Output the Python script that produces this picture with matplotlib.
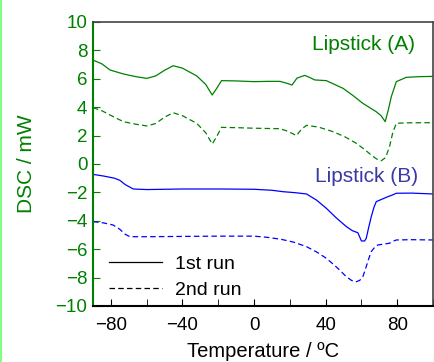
import matplotlib
matplotlib.use("Agg")
import matplotlib.pyplot as plt
from matplotlib.lines import Line2D
from matplotlib.ticker import MultipleLocator

plt.rcParams['font.family'] = ['Liberation Sans', 'DejaVu Sans']

# Lipstick A, 1st run
a1_t = [-90, -85, -80.5, -73, -66, -60, -55, -50, -45.2, -40, -32, -27, -23.4, -21, -18.2, -10, 0, 8, 14.4, 18, 21.2, 24, 28.3, 31, 33.9, 40.4, 49.7, 55, 60.8, 68.3, 71, 73.3, 75, 76.7, 79.5, 85, 92, 100]
a1_y = [7.32, 7.05, 6.62, 6.34, 6.15, 6.03, 6.2, 6.6, 6.92, 6.75, 6.2, 5.6, 4.86, 5.3, 5.87, 5.85, 5.8, 5.82, 5.82, 5.7, 5.56, 6.05, 6.24, 6.1, 5.92, 5.87, 5.33, 4.85, 4.27, 3.68, 3.4, 2.98, 3.8, 4.74, 5.8, 6.1, 6.15, 6.17]
# Lipstick A, 2nd run
a2_t = [-90, -85, -80.5, -73, -66, -60, -55, -50, -45.2, -40, -32.1, -27, -23.4, -21, -18.2, -10, 0, 8, 14.4, 19, 23.7, 26.5, 29.3, 36, 44.1, 51, 57.1, 62, 65.5, 68.5, 71.1, 73.5, 75.7, 77.5, 79.5, 86, 100]
a2_y = [3.97, 3.75, 3.45, 2.98, 2.8, 2.68, 2.85, 3.3, 3.61, 3.4, 2.87, 2.2, 1.41, 1.9, 2.58, 2.56, 2.52, 2.5, 2.49, 2.3, 2.0, 2.45, 2.72, 2.6, 2.28, 1.9, 1.46, 1.0, 0.63, 0.35, 0.23, 0.45, 1.22, 2.2, 2.87, 2.9, 2.91]
# Lipstick B, 1st run
b1_t = [-90, -84, -78, -75, -72, -67.5, -60, -40, -19.1, 0, 10, 16.2, 23, 29.3, 35, 40.4, 46, 51.6, 55, 58, 60, 61.8, 62.7, 64, 65.5, 67, 68.3, 72, 74.8, 77, 79.5, 88, 100]
b1_y = [-0.73, -0.85, -1.0, -1.15, -1.45, -1.76, -1.8, -1.76, -1.76, -1.78, -1.85, -1.95, -2.02, -2.11, -2.55, -3.12, -3.8, -4.41, -4.7, -4.84, -5.42, -5.42, -5.23, -4.5, -3.71, -3.05, -2.65, -2.45, -2.3, -2.2, -2.06, -2.05, -2.11]
# Lipstick B, 2nd run
b2_t = [-90, -84, -78.7, -75, -72, -69.4, -60, -40, -19, 0, 7, 15, 22, 29.3, 35, 40.4, 46, 51.6, 54.5, 57.1, 59, 60.8, 62.5, 64, 65.5, 67.5, 69.2, 72, 75.7, 77.5, 79.5, 88, 100]
b2_y = [-4.06, -4.15, -4.3, -4.6, -4.95, -5.12, -5.12, -5.1, -5.08, -5.08, -5.16, -5.3, -5.5, -5.82, -6.2, -6.64, -7.25, -7.94, -8.2, -8.29, -8.2, -7.94, -7.3, -6.7, -6.17, -5.85, -5.7, -5.65, -5.58, -5.45, -5.35, -5.33, -5.35]

x_ticks = [-80, -40, 0, 40, 80]
y_ticks = [-10, -8, -6, -4, -2, 0, 2, 4, 6, 8, 10]

GREEN = '#008000'
BLUE = '#0000ff'
LBLUE = '#3a3aa5'
DASH = (0, (4.4, 2.6))
LW = 0.9

fig = plt.figure(figsize=(4.34, 3.62), dpi=100)
ax = fig.add_axes([93/434, 1 - 306/362, (433 - 93)/434, (306 - 22)/362])

ax.plot(a1_t, a1_y, color=GREEN, lw=LW)
ax.plot(a2_t, a2_y, color=GREEN, lw=LW, ls=DASH)
ax.plot(b1_t, b1_y, color=BLUE, lw=LW)
ax.plot(b2_t, b2_y, color=BLUE, lw=LW, ls=DASH)

ax.set_xlim(-90, 100)
ax.set_ylim(-10, 10)
ax.set_xticks(x_ticks)
ax.xaxis.set_minor_locator(MultipleLocator(20))
ax.set_yticks(y_ticks)
ax.tick_params(axis='both', which='both', direction='in', labelsize=13.5)
ax.tick_params(axis='x', which='major', length=5, colors='black', pad=8)
ax.tick_params(axis='x', which='minor', length=5)
ax.tick_params(axis='y', which='major', length=5, colors=GREEN, labelcolor=GREEN, pad=4)
ax.set_yticklabels([str(v).replace('-', '\u2212') for v in y_ticks])
ax.set_xticklabels([str(v).replace('-', '\u2212') for v in x_ticks])

ax.spines['left'].set_color(GREEN)
ax.spines['left'].set_linewidth(1.5)
ax.spines['bottom'].set_color('black')
ax.spines['bottom'].set_linewidth(1.5)
ax.spines['top'].set_color('#444444')
ax.spines['right'].set_color('#444444')
ax.spines['top'].set_linewidth(1.2)
ax.spines['right'].set_linewidth(1.2)

ax.set_xlabel('Temperature / ºC', fontsize=14.5, labelpad=5.5)
ax.set_ylabel('DSC / mW', fontsize=15, color=GREEN, labelpad=14)

ax.text(363/434, 1 - 45/362, 'Lipstick (A)', transform=fig.transFigure, ha='center', va='center', fontsize=15, color=GREEN)
ax.text(366.5/434, 1 - 177/362, 'Lipstick (B)', transform=fig.transFigure, ha='center', va='center', fontsize=15, color=LBLUE)

handles = [Line2D([], [], color='black', lw=LW),
           Line2D([], [], color='black', lw=LW, ls=DASH)]
ax.legend(handles, ['1st run', '2nd run'], loc='lower left', bbox_to_anchor=(0.008, -0.022),
          frameon=False, fontsize=14, handlelength=2.7, handletextpad=0.7,
          labelspacing=0.4, borderaxespad=0.3)

fig.add_artist(Line2D([0.5/434, 0.5/434], [0, 1], transform=fig.transFigure, color='#80ff80', lw=1.5))

fig.savefig('out.png', dpi=100)
